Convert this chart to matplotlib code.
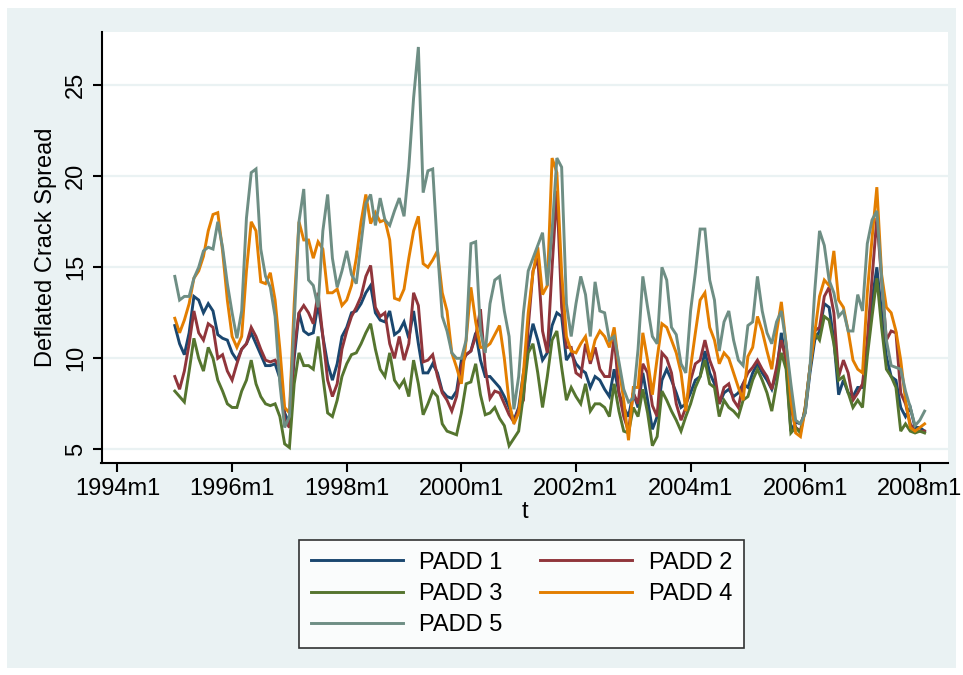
import numpy as np
import pandas as pd
import matplotlib
matplotlib.use("Agg")
import matplotlib.pyplot as plt
from matplotlib.patches import Rectangle

plt.rcParams['font.family'] = ['Liberation Sans', 'DejaVu Sans']

# monthly data, 1995m1 .. 2008m2
months = pd.period_range('1995-01', periods=158, freq='M')

padd1 = [11.8, 10.8, 10.2, 11.4, 13.4, 13.2, 12.5, 13.0, 12.6, 11.3, 11.1, 11.0,
         10.3, 9.9, 10.5, 10.8, 11.4, 10.8, 10.2, 9.6, 9.6, 9.7, 8.9, 7.0,
         6.4, 10.0, 12.5, 11.5, 11.3, 11.4, 13.0, 11.2, 9.7, 8.8, 9.7, 11.2,
         11.7, 12.5, 12.6, 13.0, 13.6, 14.0, 12.5, 12.1, 12.0, 12.6, 11.3, 11.5,
         12.0, 11.1, 12.6, 10.8, 9.2, 9.2, 9.7, 9.2, 8.2, 7.9, 7.8, 8.2,
         9.9, 10.2, 10.4, 11.4, 9.9, 9.0, 9.0, 8.7, 8.4, 7.9, 7.3, 6.6,
         7.3, 9.2, 10.6, 11.9, 11.0, 9.9, 10.3, 11.8, 12.5, 12.3, 9.9, 10.3,
         9.7, 9.4, 9.2, 8.4, 9.0, 8.8, 8.3, 7.9, 9.4, 8.1, 7.3, 6.8,
         8.1, 7.3, 9.2, 7.7, 6.1, 6.8, 8.8, 9.4, 8.8, 8.1, 7.3, 7.5,
         8.1, 8.8, 9.0, 10.4, 9.2, 8.6, 7.5, 8.1, 8.3, 7.9, 8.1, 8.6,
         8.4, 9.2, 9.7, 9.2, 8.8, 8.3, 9.2, 11.4, 9.8, 6.0, 6.5, 6.4,
         7.0, 9.2, 11.0, 11.5, 13.0, 12.8, 11.0, 8.0, 8.8, 8.1, 7.9, 8.4,
         8.4, 10.6, 13.2, 15.0, 12.5, 10.1, 9.0, 8.8, 7.3, 6.8, 7.3, 6.2,
         6.2, 6.0]

padd2 = [9.0, 8.3, 9.3, 10.8, 12.6, 11.4, 11.0, 11.9, 11.7, 10.0, 10.2, 9.3,
         8.8, 9.7, 10.5, 10.8, 11.7, 11.2, 10.5, 9.9, 9.8, 9.9, 9.5, 6.6,
         6.2, 10.5, 12.5, 12.9, 12.5, 11.9, 13.6, 11.2, 8.8, 7.9, 8.6, 10.5,
         11.5, 12.3, 12.8, 13.4, 14.5, 15.1, 12.8, 12.3, 12.5, 10.8, 10.0, 11.2,
         9.9, 10.8, 13.6, 12.9, 9.8, 9.9, 10.2, 9.0, 8.1, 7.7, 7.1, 7.9,
         9.6, 10.2, 10.4, 11.2, 12.7, 9.5, 7.8, 8.2, 8.1, 7.5, 6.9, 6.5,
         7.2, 7.7, 11.7, 14.8, 15.5, 11.5, 10.3, 15.0, 19.2, 12.8, 10.6, 10.6,
         9.2, 9.0, 10.8, 9.7, 10.6, 9.4, 9.0, 9.0, 11.2, 8.1, 6.8, 6.0,
         8.1, 7.5, 9.7, 9.2, 7.4, 6.8, 10.3, 10.0, 9.2, 7.5, 6.6, 7.3,
         8.8, 9.7, 9.9, 11.0, 9.9, 9.2, 7.5, 8.4, 8.6, 7.7, 7.3, 8.6,
         9.2, 9.5, 9.9, 9.4, 9.0, 8.3, 9.5, 11.0, 9.9, 7.3, 6.2, 6.0,
         7.3, 9.5, 11.5, 11.7, 13.4, 13.9, 12.5, 9.0, 9.9, 9.2, 7.7, 8.1,
         8.6, 11.0, 14.4, 17.7, 14.3, 11.0, 11.5, 11.4, 8.1, 7.5, 6.4, 6.0,
         6.0, 6.0]

padd3 = [8.2, 7.9, 7.6, 9.3, 11.1, 10.0, 9.3, 10.6, 10.0, 8.8, 8.2, 7.5,
         7.3, 7.3, 8.2, 8.8, 9.9, 8.6, 7.9, 7.5, 7.4, 7.5, 6.8, 5.3,
         5.1, 8.6, 10.3, 9.6, 9.6, 9.4, 11.2, 9.0, 7.0, 6.8, 7.7, 9.0,
         9.7, 10.2, 10.3, 10.8, 11.4, 11.9, 10.5, 9.4, 9.0, 10.3, 8.8, 8.4,
         8.8, 7.9, 9.9, 8.6, 6.9, 7.5, 8.2, 7.9, 6.4, 6.0, 5.9, 5.8,
         7.0, 8.6, 8.7, 9.7, 8.0, 6.9, 7.0, 7.3, 6.7, 6.3, 5.2, 5.6,
         6.0, 8.0, 10.3, 10.8, 9.2, 7.3, 9.0, 11.0, 11.5, 9.5, 7.7, 8.4,
         7.9, 7.5, 8.6, 7.1, 7.5, 7.5, 7.3, 6.8, 8.6, 7.1, 6.0, 5.9,
         7.3, 6.8, 8.3, 7.0, 5.2, 5.7, 8.2, 7.7, 7.1, 6.6, 6.0, 6.8,
         7.5, 8.4, 9.0, 9.9, 8.6, 8.4, 6.8, 7.7, 7.3, 7.1, 6.8, 7.7,
         7.9, 8.8, 9.4, 8.8, 8.1, 7.1, 8.6, 10.3, 9.4, 5.9, 6.2, 5.9,
         7.3, 9.5, 11.4, 11.0, 12.3, 12.1, 10.8, 8.8, 9.0, 8.1, 7.3, 7.7,
         7.3, 10.1, 12.3, 14.4, 11.7, 9.4, 9.0, 8.4, 6.0, 6.4, 6.0, 5.9,
         6.0, 5.9]

padd4 = [12.2, 11.4, 12.1, 13.0, 14.4, 14.8, 15.6, 17.0, 17.9, 18.0, 15.9, 13.2,
         11.2, 10.6, 11.2, 14.8, 17.5, 17.0, 14.2, 14.1, 14.7, 13.2, 10.5, 7.3,
         7.0, 13.0, 17.5, 16.5, 16.5, 15.5, 16.4, 16.0, 13.6, 13.6, 13.8, 12.9,
         13.2, 14.0, 15.5, 17.5, 19.0, 17.4, 18.0, 17.5, 17.6, 16.5, 13.3, 13.2,
         13.8, 15.5, 17.0, 17.8, 15.2, 15.0, 15.4, 15.9, 13.6, 12.6, 10.3, 9.5,
         8.6, 11.0, 13.9, 12.0, 10.6, 10.6, 10.8, 11.3, 11.8, 10.0, 7.6, 6.4,
         7.0, 9.2, 12.5, 14.7, 16.1, 13.5, 14.0, 21.0, 20.2, 14.7, 11.2, 10.4,
         10.3, 10.8, 11.2, 9.9, 11.0, 11.5, 11.2, 10.6, 11.7, 9.5, 7.7, 5.5,
         8.4, 8.4, 11.4, 9.9, 8.0, 10.0, 11.9, 11.7, 11.0, 10.3, 9.2, 7.1,
         9.5, 11.4, 13.2, 13.6, 11.7, 11.0, 9.7, 10.3, 10.0, 9.2, 8.4, 7.7,
         10.1, 10.6, 12.3, 11.5, 10.4, 9.4, 11.4, 13.1, 10.8, 7.7, 5.9, 5.7,
         7.2, 9.5, 11.4, 13.4, 14.3, 14.0, 15.9, 13.2, 12.8, 11.5, 9.9, 9.4,
         9.2, 13.6, 16.6, 19.4, 14.6, 12.8, 12.5, 11.5, 9.9, 7.7, 6.2, 6.0,
         6.2, 6.4]

padd5 = [14.5, 13.2, 13.4, 13.4, 14.4, 15.0, 15.9, 16.1, 16.0, 17.5, 16.1, 14.1,
         12.5, 11.1, 12.6, 17.7, 20.2, 20.4, 16.0, 14.5, 13.9, 12.3, 8.6, 6.2,
         6.8, 12.0, 17.5, 19.3, 14.3, 14.0, 12.8, 17.0, 19.0, 15.5, 13.9, 14.8,
         15.9, 14.6, 14.1, 16.3, 18.5, 19.0, 17.3, 18.8, 17.6, 17.3, 18.1, 18.8,
         17.8, 20.5, 24.3, 27.1, 19.1, 20.3, 20.4, 16.0, 12.3, 11.5, 10.3, 10.0,
         10.0, 11.0, 16.3, 16.4, 11.5, 10.3, 13.0, 14.3, 14.5, 12.6, 11.2, 7.2,
         9.0, 12.5, 14.8, 15.5, 16.2, 16.9, 14.0, 17.0, 21.0, 20.5, 13.0, 11.2,
         13.0, 14.5, 13.5, 11.2, 14.2, 12.6, 12.5, 11.0, 11.2, 9.8, 8.3, 7.6,
         7.8, 10.5, 14.5, 12.8, 11.2, 10.8, 15.0, 14.3, 11.7, 11.3, 9.7, 9.2,
         12.6, 14.7, 17.1, 17.1, 14.3, 13.2, 10.4, 12.0, 12.6, 11.0, 9.9, 9.6,
         11.8, 12.0, 14.5, 12.6, 11.4, 10.8, 12.0, 12.6, 10.8, 8.6, 6.6, 6.4,
         7.0, 9.5, 13.7, 17.0, 16.2, 14.3, 13.6, 12.3, 12.6, 11.5, 11.5, 13.5,
         12.6, 16.3, 17.6, 18.1, 14.4, 11.0, 9.6, 9.5, 9.4, 8.2, 7.3, 6.3,
         6.6, 7.1]

labels = ['PADD 1', 'PADD 2', 'PADD 3', 'PADD 4', 'PADD 5']
colors = ['#1A476F', '#90353B', '#55752F', '#E37E00', '#6E8E84']

# Stata style monthly index (months since 1960m1)
t = np.array([(p.year - 1960) * 12 + p.month - 1 for p in months])
tick_years = list(range(1994, 2009, 2))
tick_pos = [(y - 1960) * 12 for y in tick_years]
tick_lab = [f"{y}m1" for y in tick_years]

bg = '#EAF2F3'
fs = 17
fig = plt.figure(figsize=(9.63, 6.75), dpi=100)
fig.patch.set_facecolor('white')
fig.patches.append(Rectangle((7/963, 1-668/675), 949/963, 660/675,
                             transform=fig.transFigure, facecolor=bg,
                             edgecolor='none', zorder=-10))

ax = fig.add_axes([101.5/963, 1-463/675, (948-101.5)/963, (463-31.7)/675])
ax.set_facecolor('white')

lines = []
for vals, lab, c in zip([padd1, padd2, padd3, padd4, padd5], labels, colors):
    ln, = ax.plot(t, vals, color=c, lw=2.1, label=lab, solid_joinstyle='miter')
    lines.append(ln)

ax.set_xlim(408 - 3.35, 408 + 173.9)
ax.set_ylim(4.25, 27.94)
ax.set_xticks(tick_pos)
ax.set_xticklabels(tick_lab)
ax.set_yticks([5, 10, 15, 20, 25])
ax.grid(axis='y', color=bg, lw=1.6)
ax.set_axisbelow(True)

for s in ['top', 'right']:
    ax.spines[s].set_visible(False)
for s in ['left', 'bottom']:
    ax.spines[s].set_linewidth(1.5)

ax.tick_params(axis='both', length=6.5, width=1.5, labelsize=fs, pad=4)
for lbl in ax.get_yticklabels():
    lbl.set_rotation(90)
    lbl.set_va('center')

ax.set_xlabel('t', fontsize=fs, labelpad=1)
ax.set_ylabel('Deflated Crack Spread', fontsize=fs, labelpad=6)

# legend in Stata row order (matplotlib fills columns first)
order = [0, 2, 4, 1, 3]
leg = fig.legend([lines[i] for i in order], [labels[i] for i in order],
                 loc='center', bbox_to_anchor=(521.5/963, 1-594/675), ncol=2,
                 fontsize=fs, frameon=True, fancybox=False, edgecolor='black',
                 handlelength=3.9, handletextpad=0.7, columnspacing=1.6,
                 labelspacing=0.4, borderpad=0.5)
leg.get_frame().set_linewidth(1.2)
for h in leg.get_lines():
    h.set_linewidth(2.1)

fig.savefig('out.png', dpi=100, facecolor=fig.get_facecolor())
